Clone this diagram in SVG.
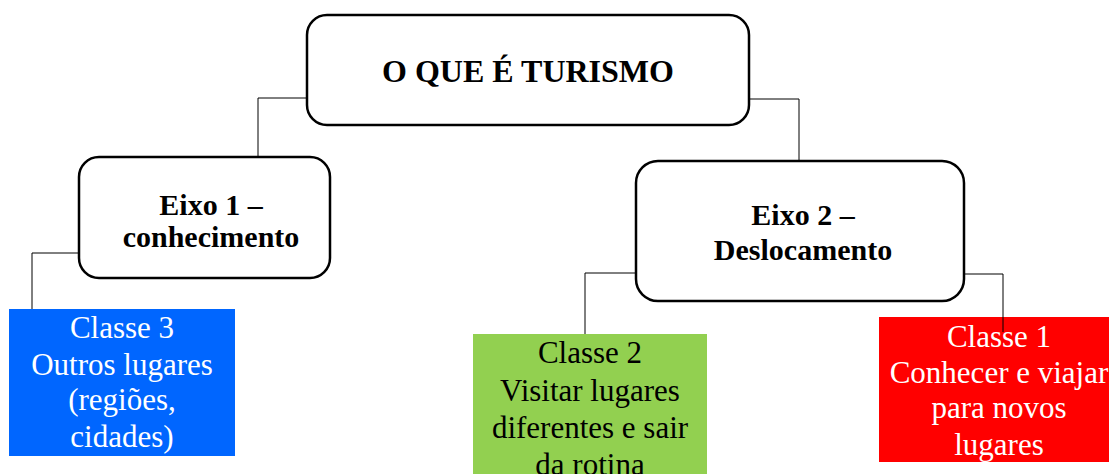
<svg xmlns="http://www.w3.org/2000/svg" width="1109" height="474" viewBox="0 0 1109 474">
<style>
.rbox{fill:#fff;stroke:#000;stroke-width:2.5}
.conn{fill:none;stroke:#000;stroke-width:1}
.h{font-family:"Liberation Serif","Times New Roman",serif;font-weight:bold;text-anchor:middle;fill:#000}
.c{font-family:"Liberation Serif","Times New Roman",serif;font-size:31px;text-anchor:middle}
</style>
<rect width="1109" height="474" fill="#fff"/>
<g id="connectors">
<path class="conn" d="M307,98 H258 V157"/>
<path class="conn" d="M749,99 H799 V161"/>
<path class="conn" d="M79,253 H32 V310"/>
<path class="conn" d="M636,273 H585 V334"/>
</g>
<g id="root">
<rect class="rbox" x="307" y="15" width="442" height="110" rx="20"/>
<text class="h" x="528" y="82" font-size="32">O QUE É TURISMO</text>
</g>
<g id="eixo1">
<rect class="rbox" x="79" y="157" width="251" height="121" rx="20"/>
<text class="h" x="211" y="215" font-size="30">Eixo 1 –</text>
<text class="h" x="211" y="247" font-size="30">conhecimento</text>
</g>
<g id="eixo2">
<rect class="rbox" x="636" y="161" width="328" height="140" rx="22"/>
<text class="h" x="803" y="225" font-size="30">Eixo 2 –</text>
<text class="h" x="803" y="260" font-size="30">Deslocamento</text>
</g>
<g id="classe3">
<rect x="9" y="309" width="226" height="147" fill="#0066FF"/>
<text class="c" fill="#fff" x="122" y="338">Classe 3</text>
<text class="c" fill="#fff" x="122" y="375">Outros lugares</text>
<text class="c" fill="#fff" x="122" y="410">(regiões,</text>
<text class="c" fill="#fff" x="122" y="447">cidades)</text>
</g>
<g id="classe2">
<rect x="473" y="334" width="234" height="140" fill="#92D050"/>
<text class="c" fill="#000" x="590" y="363">Classe 2</text>
<text class="c" fill="#000" x="590" y="401">Visitar lugares</text>
<text class="c" fill="#000" x="590" y="438">diferentes e sair</text>
<text class="c" fill="#000" x="590" y="475">da rotina</text>
</g>
<g id="classe1">
<rect x="879" y="317" width="230" height="145" fill="#FF0000"/>
<text class="c" fill="#fff" x="999" y="347">Classe 1</text>
<text class="c" fill="#fff" x="999" y="383">Conhecer e viajar</text>
<text class="c" fill="#fff" x="999" y="418">para novos</text>
<text class="c" fill="#fff" x="999" y="455">lugares</text>
</g>
<path class="conn" d="M964,274 H1003 V332"/>
</svg>
